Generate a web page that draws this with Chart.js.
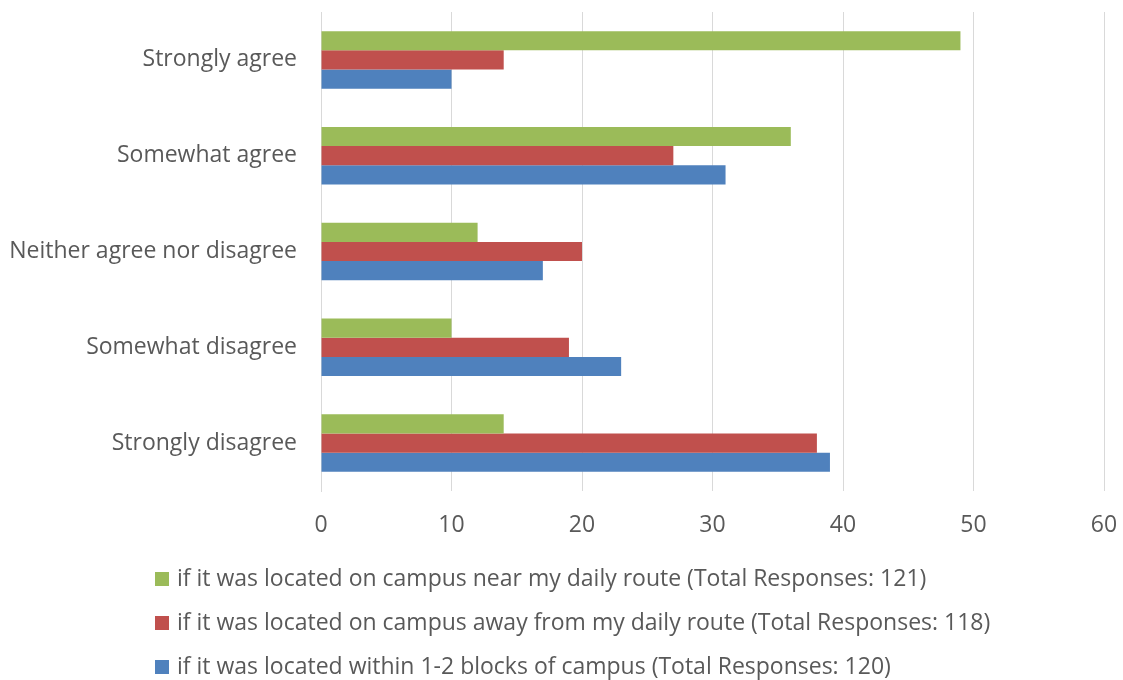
<!DOCTYPE html>
<html>
<head>
<meta charset="utf-8">
<script src="https://cdn.jsdelivr.net/npm/chart.js@4/dist/chart.umd.min.js"></script>
<style>
  body { margin: 0; background: #fff; }
  #wrap { position: relative; width: 1123px; height: 680px; }
  #myChart { position: absolute; left: 0; top: 0; }
  #legend { position: absolute; left: 155px; top: 559px; font-family: 'Open Sans', sans-serif; font-size: 23px; color: #595959; }
  #legend div { height: 44px; line-height: 36px; white-space: nowrap; }
  #legend span { display: inline-block; width: 14px; height: 14px; margin-right: 8px; vertical-align: 0px; }
</style>
</head>
<body>
<div id="wrap">
  <canvas id="myChart" width="1123" height="680"></canvas>
  <div id="legend"></div>
</div>
<script>
'use strict';
const categories=['Strongly agree','Somewhat agree','Neither agree nor disagree','Somewhat disagree','Strongly disagree'];
const seriesNames=[
  'if it was located on campus near my daily route (Total Responses: 121)',
  'if it was located on campus away from my daily route (Total Responses: 118)',
  'if it was located within 1-2 blocks of campus (Total Responses: 120)'
];
const nearRoute=[49,36,12,10,14];
const awayRoute=[14,27,20,19,38];
const nearCampus=[10,31,17,23,39];
const xTicks=[0,10,20,30,40,50,60];

const colors=['#9BBB59','#C0504D','#4F81BD'];
const allValues=[nearRoute,awayRoute,nearCampus];
const textColor='#595959';
const font={family:'Open Sans', size:23};

let datasets=[];
for (let i = 0; i < seriesNames.length; i++) {
  datasets.push({
    label: seriesNames[i],
    data: allValues[i],
    backgroundColor: colors[i],
    borderWidth: 0,
    categoryPercentage: 0.6,
    barPercentage: 1
  });
}

let ctx=document.getElementById('myChart').getContext('2d');
let chart=new Chart(ctx,{
  type:'bar',
  data:{labels:categories, datasets:datasets},
  options:{
    indexAxis:'y',
    responsive:false,
    animation:false,
    layout:{padding:{left:0,right:19,top:12,bottom:139}},
    plugins:{legend:{display:false}, tooltip:{enabled:false}},
    scales:{
      x:{
        min:0, max:60,
        afterBuildTicks:(axis)=>{ axis.ticks=xTicks.map(v=>({value:v})); },
        afterFit:(axis)=>{ axis.height=50; axis.paddingLeft=0; axis.paddingRight=0; },
        grid:{color:'#D9D9D9', lineWidth:1, drawTicks:false},
        border:{display:false},
        ticks:{color:textColor, font:font, padding:21}
      },
      y:{
        afterFit:(axis)=>{ axis.width=321; axis.paddingTop=0; axis.paddingBottom=0; },
        grid:{display:false, drawTicks:false},
        border:{display:true, color:'#D9D9D9'},
        ticks:{color:textColor, font:font, padding:24}
      }
    }
  }
});

// legend, one row per series
let legend=document.getElementById('legend');
for (let i = 0; i < seriesNames.length; i++) {
  let row=document.createElement('div');
  let box=document.createElement('span');
  box.style.background=colors[i];
  row.appendChild(box);
  row.appendChild(document.createTextNode(seriesNames[i]));
  legend.appendChild(row);
}
</script>
</body>
</html>
